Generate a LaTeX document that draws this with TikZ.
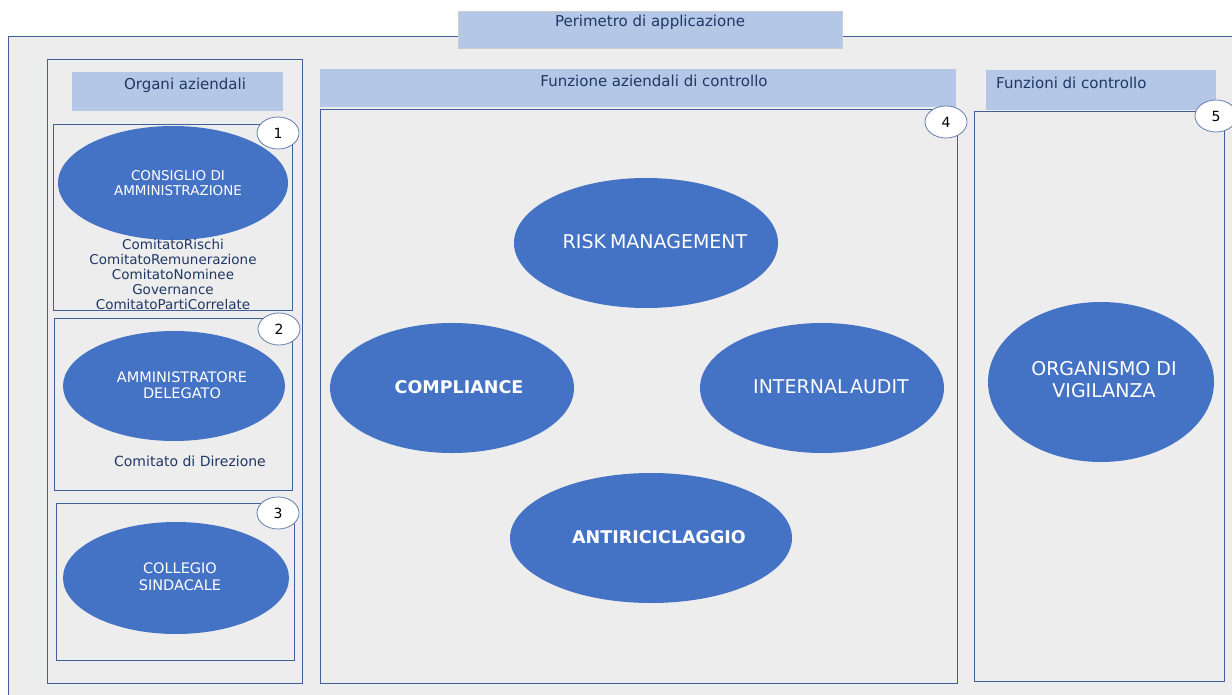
\documentclass[tikz,border=0pt]{standalone}
\usepackage{fontspec}
\setmainfont{DejaVu Sans}
\usetikzlibrary{shapes.geometric}
\definecolor{bgc}{HTML}{EDEDED}
\definecolor{hdrc}{HTML}{B4C7E7}
\definecolor{ellc}{HTML}{4472C4}
\definecolor{frmc}{HTML}{3F5E9C}
\definecolor{txtc}{HTML}{1F3864}
\begin{document}
\begin{tikzpicture}[x=1pt,y=-1pt,
  boxrect/.style={draw=frmc, line width=1pt, inner sep=0, outer sep=0},
  hdrrect/.style={fill=hdrc, draw=none, inner sep=0, outer sep=0},
  hdrtext/.style={text=txtc, font=\fontsize{15}{18}\selectfont, inner sep=0},
  org/.style={ellipse, fill=ellc, draw=none, inner sep=0},
  smalltxt/.style={text=white, align=center, inner sep=0, font=\fontsize{14}{16}\selectfont},
  bigtxt/.style={text=white, align=center, inner sep=0, font=\fontsize{19}{22}\selectfont},
  badge/.style={ellipse, draw=frmc!80, line width=0.8pt, fill=white, minimum width=42pt, minimum height=32pt, inner sep=0, font=\fontsize{14}{15}\selectfont},
  subtxt/.style={text=txtc, align=center, inner sep=0}
]
\useasboundingbox (0,0) rectangle (1232,695);
\clip (0,0) rectangle (1232,695);
\fill[white] (0,0) rectangle (1232,695);
% outer frame
\coordinate (o1) at (8,37);
\coordinate (o2) at (1260,720);
\draw[fill=bgc, draw=frmc, line width=1pt] (o1) rectangle (o2);
% title
\node[hdrrect, draw=gray!40, line width=0.5pt, minimum width=384pt, minimum height=37pt] (ttl) at (650,29.5) {};
\node[hdrtext] (ttltxt) at (650,22) {Perimetro di applicazione};

% left column
\node[boxrect, minimum width=255pt, minimum height=623pt] (colL) at (174.5,371.5) {};
\node[hdrrect, minimum width=211pt, minimum height=39pt] (hL) at (177.5,91.5) {};
\node[hdrtext] (hLtxt) at (185,85) {Organi aziendali};

\node[boxrect, minimum width=239pt, minimum height=185pt] (b1) at (172.5,217.5) {};
\node[org, minimum width=230pt, minimum height=114pt] (e1) at (173,183) {};
\node[smalltxt, font=\fontsize{13.5}{15.5}\selectfont] (e1t) at (178,183) {CONSIGLIO DI\\AMMINISTRAZIONE};
\node[subtxt, font=\fontsize{13.5}{14.8}\selectfont] (com) at (173,274.5) {ComitatoRischi\\ComitatoRemunerazione\\ComitatoNominee\\Governance\\ComitatoPartiCorrelate};
\node[badge] (n1) at (278,133) {1};

\node[boxrect, minimum width=238pt, minimum height=172pt] (b2) at (173,404) {};
\node[org, minimum width=222pt, minimum height=110pt] (e2) at (174,386) {};
\node[smalltxt, font=\fontsize{14.5}{16.5}\selectfont] (e2t) at (182,385) {AMMINISTRATORE\\DELEGATO};
\node[subtxt, font=\fontsize{14}{16}\selectfont] (cdd) at (190,461) {Comitato di Direzione};
\node[badge] (n2) at (279,329) {2};

\node[boxrect, minimum width=238pt, minimum height=157pt] (b3) at (175,581.5) {};
\node[org, minimum width=226pt, minimum height=112pt] (e3) at (176,578) {};
\node[smalltxt, font=\fontsize{14.5}{17}\selectfont] (e3t) at (180,576.5) {COLLEGIO\\SINDACALE};
\node[badge] (n3) at (278,513) {3};

% middle column
\node[hdrrect, minimum width=636pt, minimum height=38pt] (hM) at (638,88) {};
\node[hdrtext] (hMtxt) at (654,81) {Funzione aziendali di controllo};
\node[boxrect, minimum width=637pt, minimum height=573pt] (colM) at (638.5,396.5) {};
\node[badge] (n4) at (946,122) {4};

\node[org, minimum width=264pt, minimum height=130pt] (rm) at (646,243) {};
\node[bigtxt] (rmt) at (655,242) {RISK\hspace{4pt}MANAGEMENT};
\node[org, minimum width=244pt, minimum height=130pt] (cp) at (452,388) {};
\node[bigtxt, font=\fontsize{17.5}{22}\bfseries] (cpt) at (459,387) {COMPLIANCE};
\node[org, minimum width=244pt, minimum height=130pt] (ia) at (822,388) {};
\node[bigtxt] (iat) at (831,387) {INTERNAL\hspace{2.5pt}AUDIT};
\node[org, minimum width=282pt, minimum height=130pt] (ar) at (651,538) {};
\node[bigtxt, font=\fontsize{17.5}{22}\bfseries] (art) at (659,537) {ANTIRICICLAGGIO};

% right column
\node[hdrrect, minimum width=230pt, minimum height=40pt] (hR) at (1101,90) {};
\node[hdrtext, anchor=west] (hRtxt) at (996,83) {Funzioni di controllo};
\node[boxrect, minimum width=250pt, minimum height=569pt] (colR) at (1099,396.5) {};
\node[org, minimum width=226pt, minimum height=160pt] (ov) at (1101,382) {};
\node[bigtxt] (ovt) at (1104,380) {ORGANISMO DI\\VIGILANZA};
\node[badge] (n5) at (1216,116) {5};
\end{tikzpicture}
\end{document}
